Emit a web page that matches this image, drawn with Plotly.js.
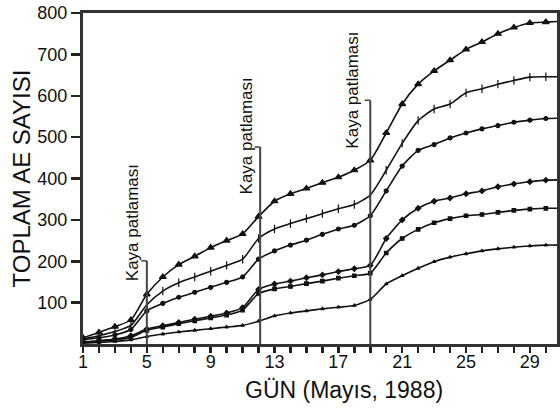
<!DOCTYPE html>
<html>
<head>
<meta charset="utf-8">
<script src="https://cdn.plot.ly/plotly-3.0.1.min.js"></script>
<style>html,body{margin:0;padding:0;background:#fff;overflow:hidden}#chart{width:560px;height:408px}</style>
</head>
<body>
<div id="chart"></div>
<script>
// Days of May 1988
const days = [1,2,3,4,5,6,7,8,9,10,11,12,13,14,15,16,17,18,19,20,21,22,23,24,25,26,27,28,29,30,31];
// Cumulative AE counts for the six curves (top to bottom)
const seriesA = [15,28,42,58,120,162,192,212,233,250,266,308,345,363,376,390,403,420,444,510,580,628,660,686,712,730,750,765,776,778,780];
const seriesB = [12,20,30,45,95,128,148,162,176,190,205,255,278,291,303,315,327,337,360,420,485,540,568,580,607,617,628,637,645,646,646];
const seriesC = [10,15,22,35,80,98,113,125,137,149,162,205,225,239,251,265,278,287,310,370,430,468,482,498,510,520,528,536,541,545,546];
const seriesD = [5,8,12,20,36,44,52,60,67,75,88,132,145,152,160,167,175,182,190,255,300,328,345,353,363,370,380,387,392,396,397];
const seriesE = [4,7,10,16,33,41,49,56,63,70,82,122,133,139,146,152,159,165,171,220,255,277,293,303,310,313,318,323,326,328,328];
const seriesF = [2,4,6,10,18,24,29,33,37,41,45,55,68,75,80,85,89,93,108,145,165,183,199,210,218,225,230,234,237,239,239];
// Rock burst events (day) and the height of their marker lines
const eventDays = [5, 12.1, 19];
const eventTops = [201, 476, 589];
const eventText = "Kaya patlaması";
const yTicks = [100,200,300,400,500,600,700,800];
const xTicks = [1,5,9,13,17,21,25,29];

const FONT = "Liberation Sans, Arial, sans-serif";
const allSeries = [seriesA, seriesB, seriesC, seriesD, seriesE, seriesF];
const symbols = ["triangle-up","line-ns-open","circle","diamond","square","triangle-up"];
const sizes = [6,6,4,4,3.5,3];

const traces = allSeries.map((s, i) => ({
  x: days, y: s, type: "scatter", mode: "lines+markers",
  line: {color: "#111", width: 1.6, shape: "spline", smoothing: 0.6},
  marker: {symbol: symbols[i], size: sizes[i], color: "#111", line: {color: "#111", width: 1.2}},
  showlegend: false, hoverinfo: "skip"
}));

const shapes = [];
eventDays.forEach((d, i) => {
  shapes.push({type: "line", xref: "x", yref: "y", x0: d, x1: d, y0: 0, y1: eventTops[i],
    line: {color: "#444", width: 2}, layer: "above"});
  shapes.push({type: "line", xref: "x", yref: "y", x0: d - 0.35, x1: d, y0: eventTops[i], y1: eventTops[i],
    line: {color: "#444", width: 1.5}, layer: "above"});
});

const plotW = 560 - 83 - 3, plotH = 408 - 13 - 64;
const labelY = [294, 502, 613];
const labelShift = [-14, -14, -18];
const annotations = eventDays.map((d, i) => ({
  x: d, y: labelY[i], xref: "x", yref: "y", text: eventText, showarrow: false,
  textangle: -90, xshift: labelShift[i], font: {family: FONT, size: 17, color: "#111"}
}));
annotations.push({
  x: (344 - 83) / plotW, y: -(390 - 344) / plotH, xref: "paper", yref: "paper",
  xanchor: "center", yanchor: "middle",
  text: "GÜN (Mayıs, 1988)", showarrow: false,
  font: {family: FONT, size: 23, color: "#111"}
});

const layout = {
  width: 560, height: 408,
  margin: {l: 83, r: 3, t: 13, b: 64},
  paper_bgcolor: "#fff", plot_bgcolor: "#fff",
  font: {family: FONT, color: "#111"},
  xaxis: {
    range: [1, 30.7], tickvals: xTicks, ticktext: xTicks.map(String),
    ticks: "outside", ticklen: 6, tickwidth: 2.5, tickcolor: "#222",
    ticklabelstandoff: -7,
    minor: {dtick: 1, tick0: 1, ticks: "outside", ticklen: 6, tickwidth: 2.5, tickcolor: "#222"},
    showgrid: false, zeroline: false, showline: true, linewidth: 3, linecolor: "#333", mirror: true,
    tickfont: {family: FONT, size: 18, color: "#111"}
  },
  yaxis: {
    range: [0, 800], tickvals: yTicks, ticktext: yTicks.map(String),
    ticks: "outside", ticklen: 9, tickwidth: 2.5, tickcolor: "#222",
    showgrid: false, zeroline: false, showline: true, linewidth: 3, linecolor: "#333", mirror: true,
    tickfont: {family: FONT, size: 18, color: "#111"},
    title: {text: "TOPLAM AE SAYISI", font: {family: FONT, size: 24, color: "#111"}, standoff: 0}
  },
  shapes: shapes,
  annotations: annotations
};

Plotly.newPlot("chart", traces, layout, {displayModeBar: false, staticPlot: true});
</script>
</body>
</html>
